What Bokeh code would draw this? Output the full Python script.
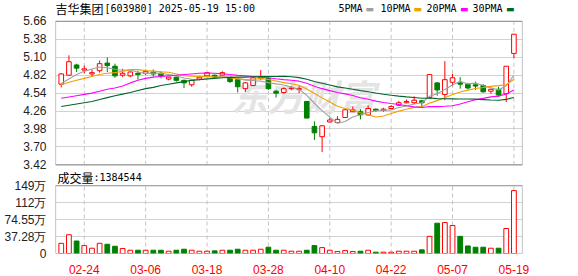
from bokeh.plotting import figure
from bokeh.models import ColumnDataSource, FixedTicker, Label, Range1d
from bokeh.embed import file_html
from bokeh.resources import INLINE

# ---------------- data ----------------
dates = ["02-19", "02-20", "02-21", "02-24", "02-25", "02-26", "02-27", "02-28",
         "03-03", "03-04", "03-05", "03-06", "03-07", "03-10", "03-11", "03-12",
         "03-13", "03-14", "03-17", "03-18", "03-19", "03-20", "03-21", "03-24",
         "03-25", "03-26", "03-27", "03-28", "03-31", "04-01", "04-02", "04-03",
         "04-07", "04-08", "04-09", "04-10", "04-11", "04-14", "04-15", "04-16",
         "04-17", "04-18", "04-21", "04-22", "04-23", "04-24", "04-25", "04-28",
         "04-29", "04-30", "05-06", "05-07", "05-08", "05-09", "05-12", "05-13",
         "05-14", "05-15", "05-16", "05-19"]

open_ = [4.68, 4.82, 4.98, 4.90, 4.84, 4.89, 5.01, 4.96, 4.82, 4.81,
         4.85, 4.85, 4.87, 4.85, 4.76, 4.79, 4.74, 4.67, 4.76, 4.81,
         4.82, 4.82, 4.78, 4.75, 4.61, 4.66, 4.77, 4.77, 4.57, 4.55,
         4.61, 4.60, 4.41, 4.02, 3.86, 4.09, 4.08, 4.16, 4.25, 4.25,
         4.20, 4.29, 4.27, 4.30, 4.35, 4.39, 4.39, 4.42, 4.47, 4.70,
         4.52, 4.71, 4.70, 4.68, 4.67, 4.66, 4.57, 4.60, 4.53, 5.16]
high = [4.85, 5.13, 5.00, 4.97, 4.91, 5.05, 5.10, 5.00, 4.92, 4.88,
        4.89, 4.91, 4.91, 4.88, 4.79, 4.80, 4.75, 4.75, 4.81, 4.87,
        4.83, 4.88, 4.80, 4.77, 4.71, 4.79, 4.90, 4.80, 4.59, 4.63,
        4.65, 4.65, 4.41, 4.10, 4.04, 4.16, 4.18, 4.28, 4.33, 4.29,
        4.35, 4.30, 4.31, 4.35, 4.42, 4.44, 4.49, 4.43, 4.83, 4.71,
        5.04, 4.84, 4.79, 4.70, 4.72, 4.68, 4.61, 4.64, 4.96, 5.46]
low = [4.63, 4.81, 4.87, 4.85, 4.80, 4.86, 4.87, 4.78, 4.79, 4.79,
       4.75, 4.82, 4.80, 4.77, 4.74, 4.72, 4.62, 4.64, 4.74, 4.79,
       4.77, 4.80, 4.70, 4.55, 4.56, 4.65, 4.74, 4.59, 4.47, 4.53,
       4.59, 4.54, 4.15, 3.81, 3.62, 4.08, 4.07, 4.15, 4.25, 4.13,
       4.19, 4.25, 4.25, 4.29, 4.34, 4.38, 4.37, 4.32, 4.46, 4.50,
       4.43, 4.65, 4.61, 4.60, 4.59, 4.55, 4.53, 4.48, 4.40, 5.09]
close = [4.84, 5.03, 4.93, 4.92, 4.86, 5.00, 4.97, 4.81, 4.85, 4.87,
         4.83, 4.88, 4.84, 4.81, 4.79, 4.74, 4.70, 4.74, 4.79, 4.86,
         4.79, 4.86, 4.72, 4.64, 4.70, 4.78, 4.79, 4.61, 4.54, 4.61,
         4.62, 4.61, 4.15, 3.92, 4.03, 4.12, 4.13, 4.28, 4.28, 4.20,
         4.30, 4.27, 4.29, 4.33, 4.39, 4.41, 4.43, 4.39, 4.83, 4.59,
         4.75, 4.78, 4.68, 4.62, 4.65, 4.56, 4.60, 4.51, 4.96, 5.46]

# volume in 万 (10k shares)
volume_wan = [22.4, 41.3, 27.5, 17.4, 11.6, 22.4, 20.3, 15.9, 10.9, 7.2,
              7.2, 7.2, 7.2, 7.2, 5.0, 7.2, 9.4, 7.2, 5.0, 5.0,
              5.8, 7.2, 7.2, 9.4, 7.2, 7.2, 9.4, 13.8, 7.2, 7.2,
              5.0, 5.0, 7.2, 17.4, 13.0, 7.2, 4.3, 6.5, 4.3, 5.0,
              7.2, 2.9, 2.9, 2.9, 5.0, 5.0, 5.0, 8.0, 37.7, 66.7,
              68.1, 61.6, 37.7, 16.7, 13.8, 13.8, 11.6, 11.6, 55.0, 138.4544]

ma5 = [4.69, 4.76, 4.83, 4.88, 4.916, 4.948, 4.936, 4.912, 4.898, 4.900,
       4.866, 4.848, 4.854, 4.846, 4.830, 4.812, 4.776, 4.756, 4.752, 4.766,
       4.776, 4.808, 4.804, 4.774, 4.742, 4.740, 4.726, 4.704, 4.684, 4.666,
       4.634, 4.598, 4.506, 4.382, 4.266, 4.166, 4.070, 4.096, 4.168, 4.202,
       4.238, 4.266, 4.268, 4.278, 4.316, 4.338, 4.370, 4.390, 4.490, 4.530,
       4.598, 4.668, 4.726, 4.684, 4.696, 4.658, 4.622, 4.588, 4.656, 4.818]
ma10 = [4.67, 4.71, 4.74, 4.77, 4.80, 4.83, 4.85, 4.86, 4.88, 4.908,
        4.907, 4.892, 4.883, 4.872, 4.865, 4.839, 4.812, 4.805, 4.799, 4.798,
        4.794, 4.792, 4.780, 4.763, 4.754, 4.758, 4.767, 4.754, 4.729, 4.704,
        4.687, 4.662, 4.605, 4.533, 4.466, 4.400, 4.334, 4.301, 4.275, 4.234,
        4.202, 4.168, 4.182, 4.223, 4.259, 4.288, 4.318, 4.329, 4.384, 4.423,
        4.468, 4.519, 4.558, 4.587, 4.613, 4.628, 4.645, 4.657, 4.670, 4.757]
ma20 = [4.46, 4.48, 4.50, 4.52, 4.54, 4.57, 4.60, 4.62, 4.65, 4.70,
        4.74, 4.77, 4.79, 4.80, 4.81, 4.82, 4.83, 4.84, 4.85, 4.853,
        4.851, 4.842, 4.832, 4.818, 4.810, 4.799, 4.790, 4.780, 4.764, 4.751,
        4.741, 4.727, 4.693, 4.648, 4.610, 4.579, 4.551, 4.528, 4.502, 4.469,
        4.445, 4.415, 4.394, 4.378, 4.363, 4.344, 4.326, 4.315, 4.330, 4.329,
        4.335, 4.344, 4.370, 4.405, 4.436, 4.458, 4.482, 4.493, 4.527, 4.590]
ma30 = [4.33, 4.35, 4.37, 4.39, 4.41, 4.44, 4.47, 4.50, 4.525, 4.55,
        4.58, 4.61, 4.63, 4.66, 4.68, 4.70, 4.72, 4.74, 4.75, 4.76,
        4.77, 4.78, 4.785, 4.79, 4.79, 4.795, 4.80, 4.80, 4.80, 4.803,
        4.796, 4.782, 4.756, 4.723, 4.695, 4.666, 4.638, 4.620, 4.601, 4.579,
        4.561, 4.541, 4.522, 4.506, 4.493, 4.482, 4.473, 4.461, 4.463, 4.454,
        4.452, 4.450, 4.448, 4.448, 4.446, 4.439, 4.432, 4.429, 4.443, 4.471]

price_ticks = [3.42, 3.70, 3.98, 4.26, 4.54, 4.82, 5.10, 5.38, 5.66]
vol_ticks = [0, 37.275, 74.55, 111.825, 149.1]
vol_tick_labels = ["0", "37.28万", "74.55万", "112万", "149万"]
xlabel_idx = [3, 11, 19, 27, 35, 43, 51, 59]

title_name = "吉华集团"
title_rest = "[603980] 2025-05-19 15:00"
vol_title = "成交量"
vol_last = ":1384544"
legend_names = ["5PMA", "10PMA", "20PMA", "30PMA"]

# ---------------- styles / layout ----------------
UP = "#ff0000"
DOWN = "#008000"
MA_COLORS = ["#a0a0a0", "#f0a000", "#ff00ff", "#00652d"]
GRID = "#d2d2d2"
VGRID = "#c4c4c4"
BORDER = "#999999"
AX_FONT = "Liberation Sans"

W, H = 578, 276
LEFT, RIGHT, BOTTOM = 55, 56, 22
FRAME_H = H - BOTTOM                 # frame covers rows 0..254
P_TOP_PX, P_BOT_PX = 21, 165         # price box rows
V_TOP_PX, V_BOT_PX = 186, 254        # volume box rows

p_lo, p_hi = price_ticks[0], price_ticks[-1]
kp = (p_hi - p_lo) / (P_BOT_PX - P_TOP_PX)
price_range = (p_lo - (FRAME_H - P_BOT_PX) * kp, p_hi + P_TOP_PX * kp)

v_lo, v_hi = vol_ticks[0], vol_ticks[-1]
kv = (v_hi - v_lo) / (V_BOT_PX - V_TOP_PX)
vol_range = (v_lo - (FRAME_H - V_BOT_PX) * kv, v_hi + V_TOP_PX * kv)


def vol_to_price_axis(v):
    """position on the shared left axis (price units) of a volume tick"""
    row = V_BOT_PX - (v - v_lo) / kv
    return p_hi - (row - P_TOP_PX) * kp


vol_axis_pos = [vol_to_price_axis(v) for v in vol_ticks]
axis_ticks = price_ticks + vol_axis_pos
axis_labels = {t: "%.2f" % t for t in price_ticks}
axis_labels.update({t: s for t, s in zip(vol_axis_pos, vol_tick_labels)})

idx = list(range(len(dates)))
is_up = [c >= o for o, c in zip(open_, close)]
src = ColumnDataSource(dict(
    x=idx, o=open_, h=high, l=low, c=close,
    top=[max(o, c) for o, c in zip(open_, close)],
    bot=[min(o, c) for o, c in zip(open_, close)],
    lc=[UP if u else DOWN for u in is_up],
    fc=["#ffffff" if u else DOWN for u in is_up],
    vol=volume_wan, ma5=ma5, ma10=ma10, ma20=ma20, ma30=ma30,
))

X0, X1 = -0.75, 60.12

p = figure(width=W, height=H, x_range=(X0, X1), y_range=price_range,
           output_backend="svg", toolbar_location=None, title=None,
           min_border_left=LEFT, min_border_right=RIGHT, min_border_top=0,
           min_border_bottom=BOTTOM,
           background_fill_color="white", border_fill_color="white", outline_line_color=None)
p.extra_y_ranges = {"vol": Range1d(*vol_range)}

# axes
p.xaxis.ticker = FixedTicker(ticks=xlabel_idx)
p.xaxis.major_label_overrides = {i: dates[i] for i in xlabel_idx}
p.xaxis.axis_line_color = None
p.xaxis.major_tick_line_color = None
p.xaxis.minor_tick_line_color = None
p.xaxis.major_label_standoff = 5
p.xaxis.major_label_text_color = UP
p.xaxis.major_label_text_font = AX_FONT
p.xaxis.major_label_text_font_size = "12px"
p.xgrid.visible = False

p.yaxis.ticker = FixedTicker(ticks=axis_ticks)
p.yaxis.major_label_overrides = axis_labels
p.yaxis.axis_line_color = None
p.yaxis.major_tick_line_color = None
p.yaxis.minor_tick_line_color = None
p.yaxis.major_label_standoff = 3
p.yaxis.major_label_text_font = AX_FONT
p.yaxis.major_label_text_font_size = "12px"
p.yaxis.major_label_text_color = "#222222"
p.ygrid.grid_line_color = GRID

# watermark
p.add_layout(Label(x=176, y=FRAME_H - 95, x_units="screen", y_units="screen", text="东方财富",
                   text_font="Noto Sans CJK SC", text_font_size="36px",
                   text_font_style="bold italic", text_color="#e4e4e4",
                   text_baseline="middle", text_align="left", level="underlay"))

# dashed vertical grid, restricted to the two boxes
nx = len(xlabel_idx)
p.segment(x0=xlabel_idx, y0=[p_lo] * nx, x1=xlabel_idx, y1=[p_hi] * nx,
          line_color=VGRID, line_dash="4 3", line_width=1)
p.segment(x0=xlabel_idx, y0=[v_lo] * nx, x1=xlabel_idx, y1=[v_hi] * nx,
          line_color=VGRID, line_dash="4 3", line_width=1, y_range_name="vol")

# candles
p.segment(x0="x", y0="l", x1="x", y1="h", line_color="lc", line_width=1, source=src)
p.vbar(x="x", width=0.6, top="top", bottom="bot", fill_color="fc", line_color="lc",
       line_width=1, source=src)
for key, col in zip(["ma5", "ma10", "ma20", "ma30"], MA_COLORS):
    p.line(x="x", y=key, line_color=col, line_width=1.1, source=src)

# volume
p.vbar(x="x", width=0.62, top="vol", bottom=v_lo, fill_color="fc", line_color="lc",
       line_width=1, source=src, y_range_name="vol")

# box borders
p.quad(left=[X0], right=[X1], bottom=[p_lo], top=[p_hi], fill_color=None,
       line_color=BORDER, line_width=1.2)
p.quad(left=[X0], right=[X1], bottom=[v_lo], top=[v_hi], fill_color=None,
       line_color=BORDER, line_width=1.2, y_range_name="vol")

# title, legend and volume caption (screen units from the frame's bottom-left)
ty = FRAME_H - 9
p.add_layout(Label(x=0, y=ty, x_units="screen", y_units="screen", text=title_name,
                   text_font="Noto Sans CJK SC", text_font_size="12px", text_color="#000000",
                   text_baseline="middle"))
p.add_layout(Label(x=49, y=ty, x_units="screen", y_units="screen", text=title_rest,
                   text_font="DejaVu Sans Mono", text_font_size="10px", text_color="#000000",
                   text_baseline="middle"))
leg_text_x = [283, 325, 371, 417]
leg_mark_x = [310, 358, 404.5, 450.5]
for name, tx, mx, col in zip(legend_names, leg_text_x, leg_mark_x, MA_COLORS):
    p.add_layout(Label(x=tx, y=ty, x_units="screen", y_units="screen", text=name,
                       text_font="DejaVu Sans Mono", text_font_size="10px", text_color="#000000",
                       text_baseline="middle"))
    p.add_layout(Label(x=mx, y=ty, x_units="screen", y_units="screen", text="▬",
                       text_font="DejaVu Sans", text_font_size="9px", text_color=col,
                       text_baseline="middle"))

vy = FRAME_H - 177.5
p.add_layout(Label(x=2, y=vy, x_units="screen", y_units="screen", text=vol_title,
                   text_font="Noto Sans CJK SC", text_font_size="12px", text_color="#000000",
                   text_baseline="middle"))
p.add_layout(Label(x=38, y=vy, x_units="screen", y_units="screen", text=vol_last,
                   text_font="DejaVu Sans Mono", text_font_size="10px", text_color="#000000",
                   text_baseline="middle"))

open("out.html", "w").write(file_html(p, INLINE))
